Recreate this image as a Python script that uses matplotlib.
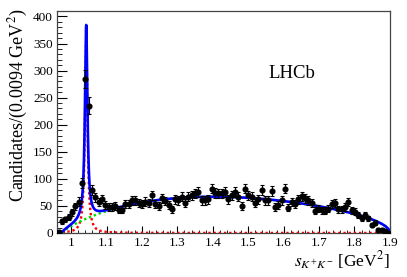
import numpy as np
import matplotlib
matplotlib.use('Agg')
import matplotlib.pyplot as plt
from matplotlib.ticker import MultipleLocator

plt.rcParams['font.family'] = ['Liberation Serif', 'DejaVu Serif']
plt.rcParams['mathtext.fontset'] = 'stix'

# binning: 100 bins of 0.0094 GeV^2 between 0.96 and 1.9
edges = np.linspace(0.96, 1.9, 101)
centers = 0.5*(edges[1:] + edges[:-1])

# candidates per bin
counts = np.array([
    2, 22, 25, 30, 38, 49, 58, 92, 285, 235,
    79, 66, 57, 63, 51, 48, 48, 50, 43, 43,
    54, 54, 60, 60, 55, 53, 58, 56, 70, 54,
    50, 64, 59, 52, 44, 62, 60, 67, 56, 67,
    70, 73, 76, 60, 60, 62, 82, 74, 73, 73,
    76, 62, 70, 76, 67, 50, 82, 70, 67, 56,
    62, 79, 60, 60, 78, 48, 51, 60, 82, 47,
    57, 54, 62, 68, 64, 60, 55, 41, 45, 42,
    41, 45, 53, 56, 44, 44, 48, 57, 42, 39,
    33, 27, 33, 27, 15, 19, 6, 6, 3, 0])
errors = np.sqrt(counts)

# fit components (parameters)
phi_mass2 = 1.0425   # GeV^2
phi_width = 0.0085   # GeV^2
phi_height = 358.
s_thr, s_max = 0.974, 1.9
bg_norm = 280.
bg_pars = [0.83, 0.5, -0.833, 0.224]

s = np.linspace(0.96, 1.9, 6000)
bw = phi_height/(1 + ((s - phi_mass2)/(phi_width/2))**2)
u = np.clip(s - s_thr, 0, None)
v = np.clip(s_max - s, 0, None)
bg = bg_norm*u**bg_pars[0]*v**bg_pars[1]*(1 + bg_pars[2]*u + bg_pars[3]*u**2)
total = bw + bg

fig = plt.figure(figsize=(4.07, 2.77), dpi=100)
ax = fig.add_axes([0.140, 0.159, 0.818, 0.801])

ax.plot(s, bw, color='#ff0000', ls=(0, (1, 1.2)), lw=1.7, zorder=2)
ax.plot(s[s > s_thr], bg[s > s_thr], color='#00dd00', ls=(0, (1, 1.2)), lw=1.7, zorder=2)
ax.plot(s, total, color='#0000ff', lw=1.9, zorder=3)
ax.errorbar(centers, counts, yerr=errors, fmt='o', color='black', ms=3.4,
            elinewidth=0.8, capsize=1.2, capthick=0.8, zorder=4)

ax.set_xlim(0.96, 1.9)
ax.set_ylim(0, 410)
ax.xaxis.set_major_locator(MultipleLocator(0.1))
ax.xaxis.set_minor_locator(MultipleLocator(0.02))
ax.yaxis.set_major_locator(MultipleLocator(50))
ax.yaxis.set_minor_locator(MultipleLocator(10))
ax.xaxis.set_major_formatter(matplotlib.ticker.FuncFormatter(lambda x, p: ('%g' % round(x, 2))))
ax.tick_params(axis='both', which='both', direction='in', labelsize=9.5, top=False, right=False)
ax.tick_params(axis='y', which='major', length=7, pad=3)
ax.tick_params(axis='y', which='minor', length=3.5)
ax.tick_params(axis='x', which='major', length=5, pad=3)
ax.tick_params(axis='x', which='minor', length=2.5)
for sp in ax.spines.values():
    sp.set_color('#444444')
    sp.set_linewidth(0.9)

ax.set_ylabel('Candidates/(0.0094 GeV$^{2}$)', fontsize=13, loc='top')
ax.yaxis.set_label_coords(-0.08, 1.012)
ax.set_xlabel(r'$s_{K^{+}K^{-}}$ [GeV$^{2}$]', fontsize=12.5, loc='right')
ax.xaxis.set_label_coords(1.0, -0.075)

ax.text(0.705, 0.72, 'LHCb', transform=ax.transAxes, fontsize=13.5, ha='center', va='center')

fig.savefig('out.png', dpi=100)
